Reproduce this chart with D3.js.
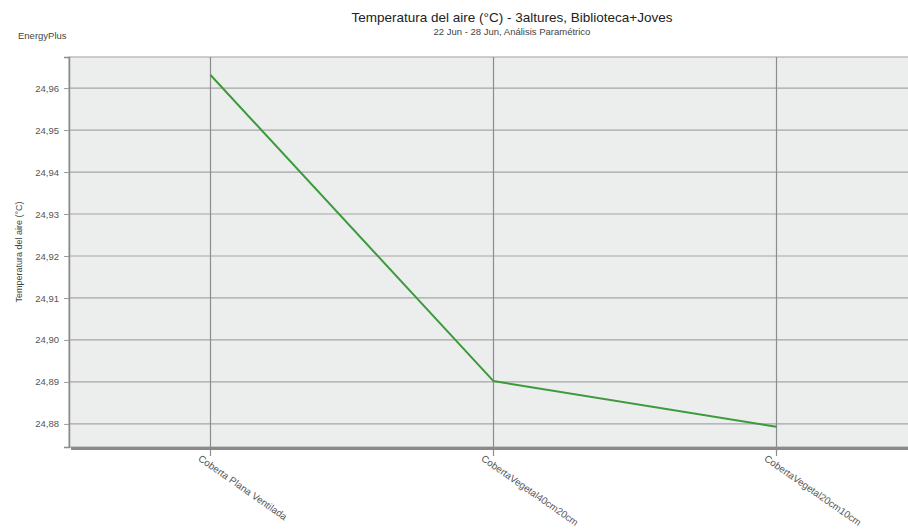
<!DOCTYPE html>
<html>
<head>
<meta charset="utf-8">
<script src="https://cdn.jsdelivr.net/npm/d3@7"></script>
<style>
  body { margin: 0; background: #fff; }
  svg { display: block; font-family: "Liberation Sans", Arial, sans-serif; }
</style>
</head>
<body>
<div id="chart"></div>
<script>
// data
const categories = ['Coberta Plana Ventilada', 'CobertaVegetal40cm20cm', 'CobertaVegetal20cm10cm'];
const temperatures = [24.9631, 24.8902, 24.8793];
const yTicks = [24.88, 24.89, 24.90, 24.91, 24.92, 24.93, 24.94, 24.95, 24.96];

const W = 908, H = 529;
const plot = { left: 69, right: 918, top: 57, bottom: 447 };

const svg = d3.select('#chart').append('svg')
  .attr('width', W)
  .attr('height', H);

const x = d3.scalePoint()
  .domain(categories)
  .range([plot.left, plot.right])
  .padding(0.5);

const y = d3.scaleLinear()
  .domain([24.8745, 24.9674])
  .range([plot.bottom, plot.top]);

// plot background
svg.append('rect')
  .attr('x', plot.left)
  .attr('y', plot.top)
  .attr('width', plot.right - plot.left)
  .attr('height', plot.bottom - plot.top)
  .attr('fill', '#eceeed')
  .attr('stroke', '#a0a0a0')
  .attr('stroke-width', 1);

// bottom shadow
svg.append('rect')
  .attr('x', plot.left + 2)
  .attr('y', plot.bottom)
  .attr('width', plot.right - plot.left)
  .attr('height', 3)
  .attr('fill', '#8a8a8a');

// horizontal grid
svg.append('g')
  .selectAll('line')
  .data(yTicks)
  .join('line')
  .attr('x1', plot.left)
  .attr('x2', plot.right)
  .attr('y1', d => y(d))
  .attr('y2', d => y(d))
  .attr('stroke', '#a4a4a4')
  .attr('stroke-width', 1.2);

// vertical grid at categories
svg.append('g')
  .selectAll('line')
  .data(categories)
  .join('line')
  .attr('x1', d => x(d))
  .attr('x2', d => x(d))
  .attr('y1', plot.top)
  .attr('y2', plot.bottom + 9)
  .attr('stroke', '#8c8c8c')
  .attr('stroke-width', 1.2);

// left axis
const yAxis = svg.append('g')
  .attr('transform', `translate(${plot.left},0)`)
  .call(d3.axisLeft(y)
    .tickValues(yTicks)
    .tickSize(5)
    .tickFormat(d => d3.format('.2f')(d).replace('.', ',')));
yAxis.select('.domain').attr('stroke', '#8c8c8c').attr('stroke-width', 1.5);
yAxis.selectAll('.tick line').attr('stroke', '#9a9a9a');
yAxis.selectAll('.tick text')
  .attr('fill', '#555')
  .attr('font-size', 9.5)
  .attr('x', -10);

// x labels
svg.append('g')
  .selectAll('text')
  .data(categories)
  .join('text')
  .attr('transform', d => `translate(${x(d) - 13},${plot.bottom + 13}) rotate(35)`)
  .attr('fill', '#555')
  .attr('font-size', 9.8)
  .text(d => d);

// line
svg.append('path')
  .datum(temperatures)
  .attr('fill', 'none')
  .attr('stroke', '#3c9a3c')
  .attr('stroke-width', 2)
  .attr('d', d3.line()
    .x((d, i) => x(categories[i]))
    .y(d => y(d)));

// titles
svg.append('text')
  .attr('x', 512)
  .attr('y', 22)
  .attr('text-anchor', 'middle')
  .attr('font-size', 13.5)
  .attr('fill', '#222')
  .text('Temperatura del aire (°C) - 3altures, Biblioteca+Joves');

svg.append('text')
  .attr('x', 512)
  .attr('y', 35)
  .attr('text-anchor', 'middle')
  .attr('font-size', 9.5)
  .attr('fill', '#444')
  .text('22 Jun - 28 Jun, Análisis Paramétrico');

svg.append('text')
  .attr('x', 18)
  .attr('y', 39)
  .attr('font-size', 9.5)
  .attr('fill', '#444')
  .text('EnergyPlus');

svg.append('text')
  .attr('transform', `translate(22,${(plot.top + plot.bottom) / 2}) rotate(-90)`)
  .attr('text-anchor', 'middle')
  .attr('font-size', 9)
  .attr('fill', '#444')
  .text('Temperatura del aire (°C)');
</script>
</body>
</html>
